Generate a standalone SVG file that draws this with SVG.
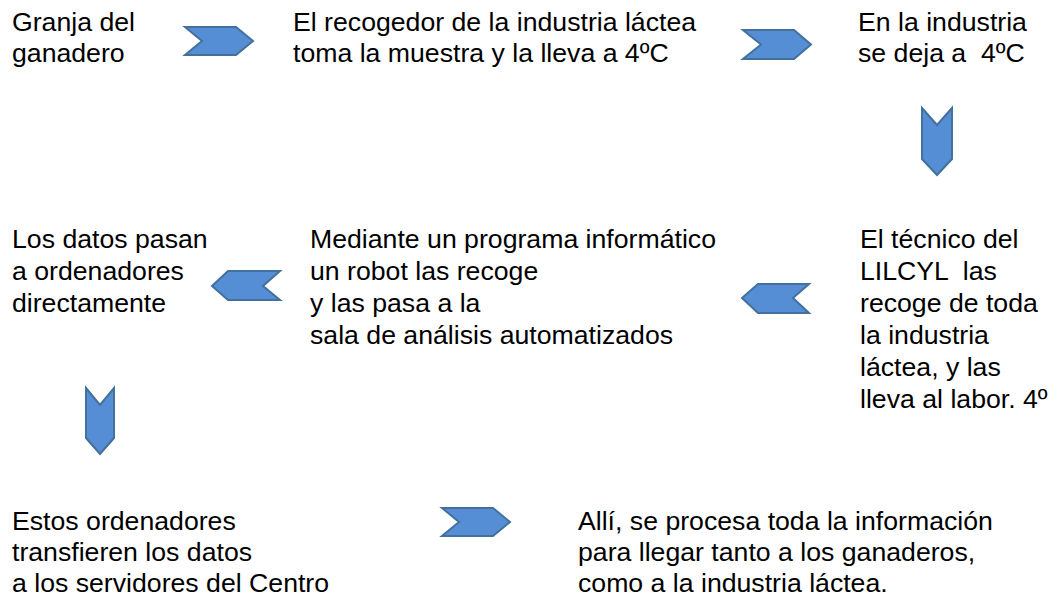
<svg xmlns="http://www.w3.org/2000/svg" width="1057" height="599" viewBox="0 0 1057 599">
<style>
text{font-family:"Liberation Sans",Arial,sans-serif;font-size:26.67px;fill:#000;white-space:pre}
.arr{fill:#558ED5;stroke:#41719C;stroke-width:2;stroke-linejoin:miter}
</style>
<rect width="1057" height="599" fill="#fff"/>
<g id="n1"><text x="12" y="31">Granja del</text><text x="12" y="62">ganadero</text></g>
<g id="n2"><text x="293" y="31">El recogedor de la industria láctea</text><text x="293" y="62">toma la muestra y la lleva a 4ºC</text></g>
<g id="n3"><text x="858" y="31">En la industria</text><text x="858" y="62" xml:space="preserve">se deja a  4ºC</text></g>
<g id="n4"><text x="860" y="248">El técnico del</text><text x="860" y="280" xml:space="preserve">LILCYL  las</text><text x="860" y="312">recoge de toda</text><text x="860" y="344">la industria</text><text x="860" y="376">láctea, y las</text><text x="860" y="408">lleva al labor. 4º</text></g>
<g id="n5"><text x="310" y="248">Mediante un programa informático</text><text x="310" y="280">un robot las recoge</text><text x="310" y="312">y las pasa a la</text><text x="310" y="344">sala de análisis automatizados</text></g>
<g id="n6"><text x="12" y="248">Los datos pasan</text><text x="12" y="280">a ordenadores</text><text x="12" y="312">directamente</text></g>
<g id="n7"><text x="12" y="530">Estos ordenadores</text><text x="12" y="561">transfieren los datos</text><text x="12" y="592">a los servidores del Centro</text></g>
<g id="n8"><text x="578" y="530">Allí, se procesa toda la información</text><text x="578" y="561">para llegar tanto a los ganaderos,</text><text x="578" y="592">como a la industria láctea.</text></g>
<g id="connectors">
<polygon class="arr" points="185,27 236,27 253,41 236,55 185,55 202,41"/>
<polygon class="arr" points="743,30 794,30 811,44.5 794,59 743,59 761,44.5"/>
<polygon class="arr" points="922,108 937,125 952,108 952,159 937,175 922,159"/>
<polygon class="arr" points="742,298 758,284 809,284 793,298 809,313 758,313"/>
<polygon class="arr" points="212,286 228,271 280,271 263,286 280,300 228,300"/>
<polygon class="arr" points="86,388 100,405 114,388 114,438 100,454 86,438"/>
<polygon class="arr" points="442,508 493,508 510,522 493,536 442,536 459,522"/>
</g>
</svg>
